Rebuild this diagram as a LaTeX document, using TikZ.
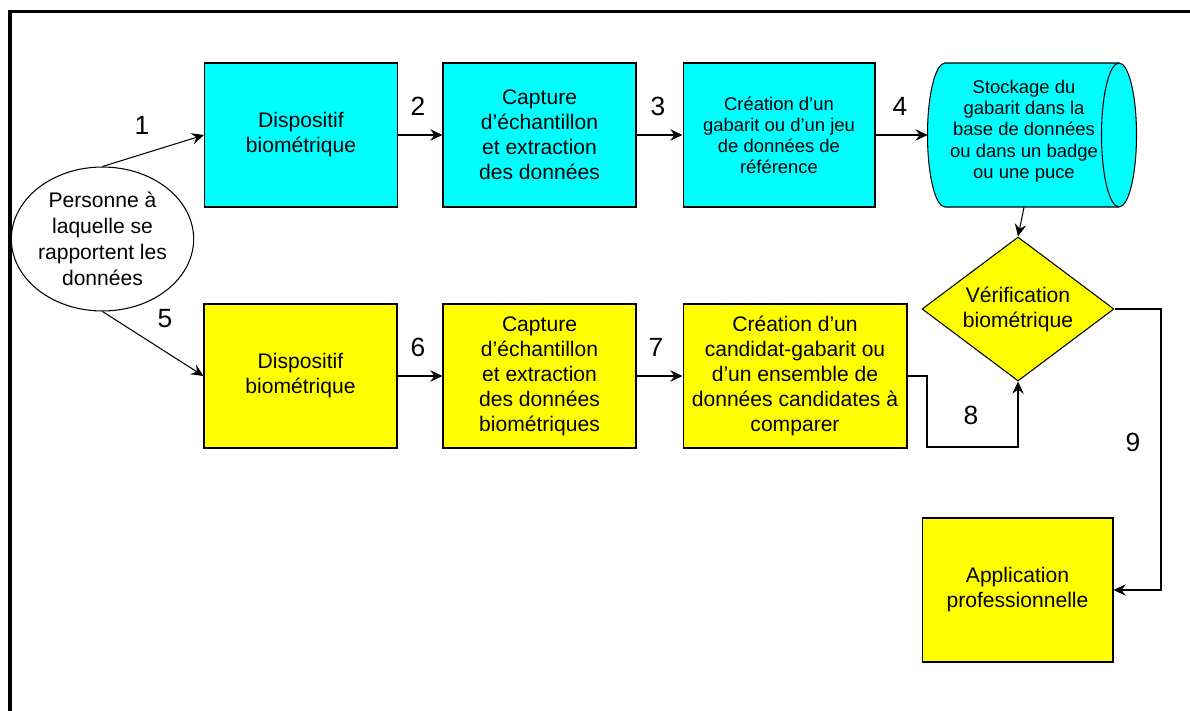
\documentclass[tikz,border=0pt]{standalone}
\usepackage{fontspec}
\setmainfont{Liberation Sans}
\usetikzlibrary{arrows.meta,shapes.geometric}
\definecolor{cyanbox}{RGB}{0,255,255}
\definecolor{yelbox}{RGB}{255,255,0}

\begin{document}
\begin{tikzpicture}[x=0.02cm,y=-0.02cm,
	box/.style={draw,line width=0.6pt,minimum width=3.86cm,minimum height=2.88cm,inner sep=0pt,align=center,font=\fontsize{12}{14.2}\selectfont},
	bluebox/.style={box,fill=cyanbox},
	yelbox/.style={box,fill=yelbox},
	arr/.style={line width=0.6pt,-{Stealth[length=7pt,width=6.5pt,inset=2.5pt]}},
	num/.style={font=\fontsize{15}{17}\selectfont}]
		\useasboundingbox (0,0) rectangle (1190,710);
		\draw[line width=2pt] (10,712) -- (10,11.5) -- (1192,11.5);
		
		\node[draw,ellipse,line width=0.6pt,minimum width=3.22cm,minimum height=2.88cm,inner sep=0pt,align=center,font=\fontsize{12}{14.8}\selectfont] (pers) at (102.5,239) {Personne à\\laquelle se\\rapportent les\\données};
		
		\node[bluebox] (dev1) at (301,135) {Dispositif\\biométrique};
		\node[bluebox] (cap1) at (539.5,135) {Capture\\d’échantillon\\et extraction\\des données};
		\node[bluebox,minimum width=3.84cm,font=\fontsize{10.5}{12}\selectfont] (ref1) at (779,135) {Création d'un\\gabarit ou d’un jeu\\de données de\\référence};
		
		% storage drum
		\draw[line width=0.6pt,fill=cyanbox] (945,63) -- (1119,63) arc[start angle=90,end angle=-90,x radius=0.35cm,y radius=1.44cm] -- (945,207) arc[start angle=270,end angle=90,x radius=0.35cm,y radius=1.44cm] -- cycle;
		\draw[line width=0.6pt] (1119,63) arc[start angle=90,end angle=270,x radius=0.35cm,y radius=1.44cm];
		\node[minimum width=3.84cm,minimum height=2.88cm,inner sep=0pt,align=center,font=\fontsize{10.5}{12.1}\selectfont] (stor) at (1024,131) {Stockage du\\gabarit dans la\\base de données\\ou dans un badge\\ou une puce};
		
		\node[yelbox] (dev2) at (300.5,376) {Dispositif\\biométrique};
		\node[yelbox] (cap2) at (539.5,376) {Capture\\d’échantillon\\et extraction\\des données\\biométriques};
		\node[yelbox,minimum width=4.48cm] (cand) at (795,376) {Création d'un\\candidat-gabarit ou\\d'un ensemble de\\données candidates à\\comparer};
		
		\node[draw,diamond,fill=yelbox,line width=0.6pt,aspect=1.333,minimum width=3.84cm,minimum height=2.88cm,inner sep=0pt,align=center,font=\fontsize{12}{14.2}\selectfont] (verif) at (1018,309) {Vérification\\biométrique};
		\node[yelbox,minimum width=3.82cm] (app) at (1017.5,590) {Application\\professionnelle};
		
		\coordinate (k8) at (927,447);
		\coordinate (k9) at (1161,450);
		
		\draw[arr] (pers.north) -- (dev1.west);
		\draw[arr] (dev1) -- (cap1);
		\draw[arr] (cap1) -- (ref1);
		\draw[arr] (ref1) -- (stor.west |- ref1);
		\draw[arr] ([yshift=-0.08cm]stor.south) -- (verif.north);
		\draw[arr] (pers.south) -- (dev2.west);
		\draw[arr] (dev2) -- (cap2);
		\draw[arr] (cap2) -- (cand);
		\draw[arr] (cand.east) -| (k8) -| (verif.south);
		\draw[arr] (verif.east) -| (k9) |- (app.east);
		
		\node[num] (l1) at (142,125) {1};
		\node[num] (l2) at (418,106) {2};
		\node[num] (l3) at (658,106) {3};
		\node[num] (l4) at (900,106) {4};
		\node[num] (l5) at (165,319) {5};
		\node[num] (l6) at (418,347) {6};
		\node[num] (l7) at (656,347) {7};
		\node[num] (l8) at (971,415) {8};
		\node[num] (l9) at (1133,442) {9};
	\end{tikzpicture}
\end{document}
